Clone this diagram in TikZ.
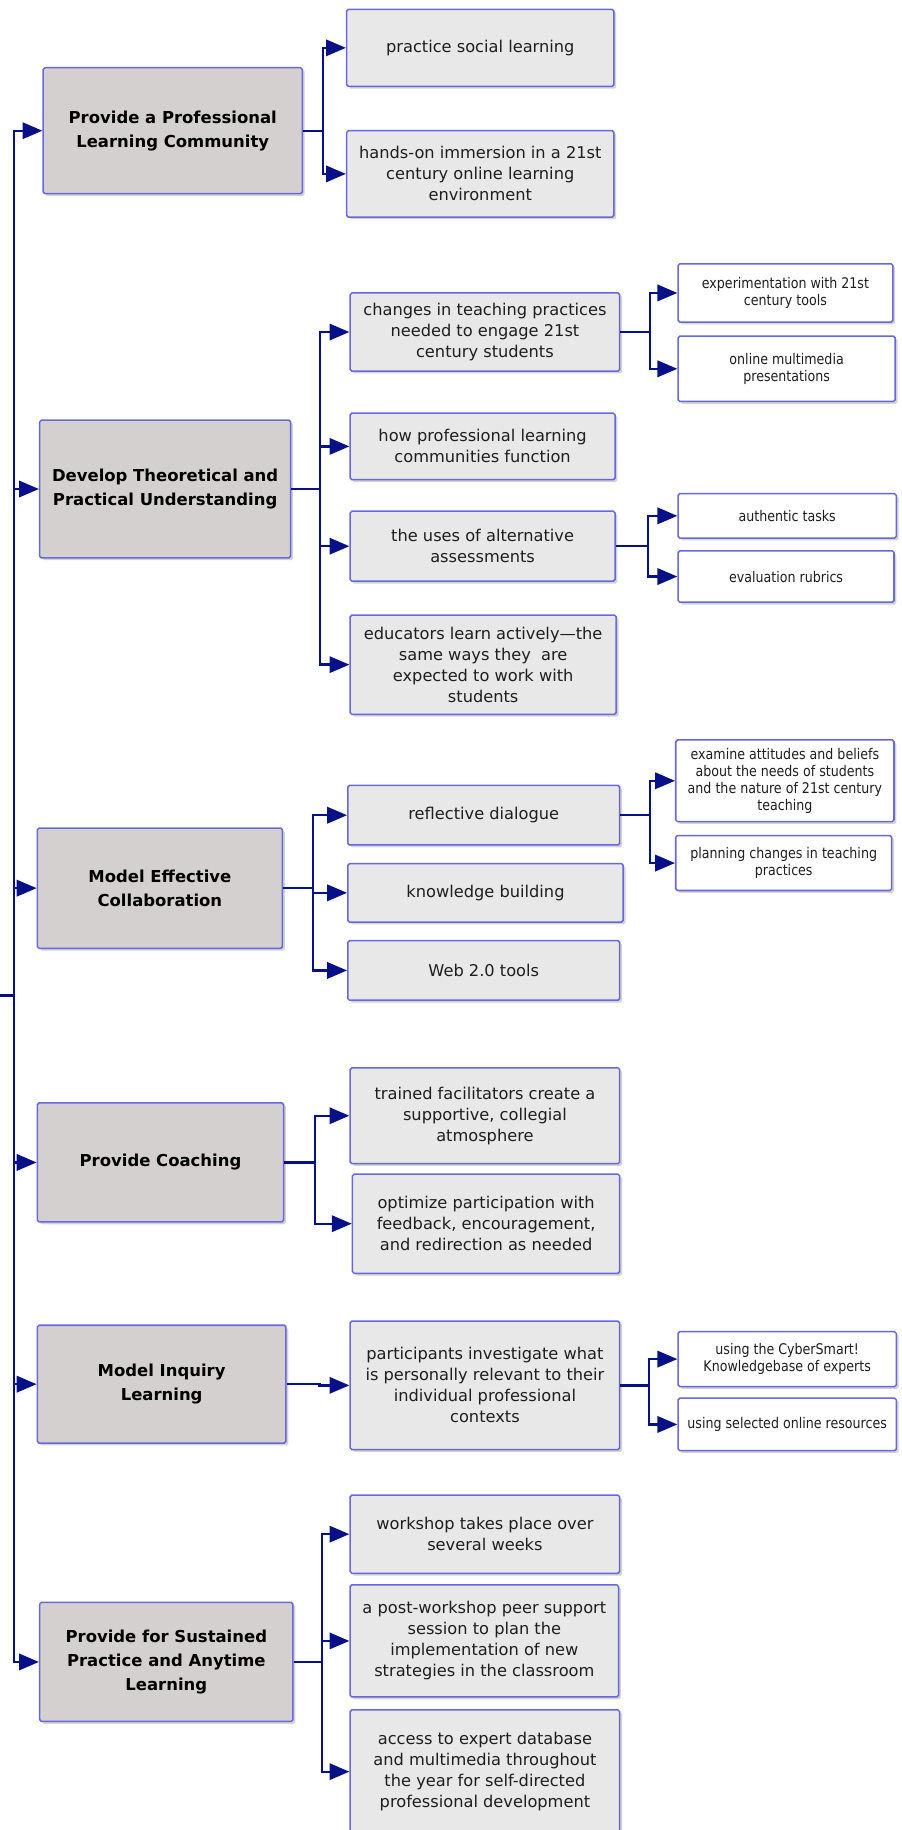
\documentclass[tikz,border=0pt]{standalone}
\usepackage{fontspec}
\usetikzlibrary{arrows.meta,shadows}
\newfontfamily\mainf{DejaVu Sans}
\newfontfamily\narrowf[FakeStretch=0.86]{DejaVu Sans}
\definecolor{bordc}{RGB}{104,104,222}
\definecolor{linec}{RGB}{8,16,136}
\definecolor{lonefill}{RGB}{212,208,208}
\definecolor{ltwofill}{RGB}{232,232,232}
\definecolor{txtc}{RGB}{30,30,30}
\tikzset{
  boxbase/.style={draw=bordc, line width=1.3pt, rounded corners=1.5pt, align=center,
    inner sep=0pt, text=txtc,
    drop shadow={shadow xshift=2pt, shadow yshift=-2pt, opacity=0.35, fill=gray}},
  lone/.style={boxbase, fill=lonefill, text=black, font=\mainf\bfseries\fontsize{14.1}{20.5}\selectfont},
  ltwo/.style={boxbase, fill=ltwofill, font=\mainf\fontsize{13.9}{18}\selectfont},
  lthree/.style={boxbase, fill=white, font=\narrowf\fontsize{12.6}{14.5}\selectfont},
  conn/.style={draw=linec, line width=2pt},
  arr/.style={conn, -{Triangle[length=17pt,width=14pt]}},
}
\begin{document}
\begin{tikzpicture}[x=1pt,y=-1pt]
\useasboundingbox (0,0) rectangle (772,1568);
% level 1
\node[lone, minimum width=222pt, minimum height=108pt] (A) at (148,112) {Provide a Professional\\Learning Community};
\node[lone, minimum width=215pt, minimum height=118pt] (B) at (141.5,419) {Develop Theoretical and\\Practical Understanding};
\node[lone, minimum width=210pt, minimum height=103pt] (C) at (137,761) {Model Effective\\Collaboration};
\node[lone, minimum width=211pt, minimum height=102pt] (D) at (137.5,996) {Provide Coaching};
\node[lone, minimum width=213pt, minimum height=101pt] (E) at (138.5,1186) {Model Inquiry\\Learning};
\node[lone, minimum width=217pt, minimum height=102pt] (F) at (142.5,1424) {Provide for Sustained\\Practice and Anytime\\Learning};
% level 2
\node[ltwo, minimum width=229pt, minimum height=66pt] (A1) at (411.5,41) {practice social learning};
\node[ltwo, minimum width=229pt, minimum height=74pt] (A2) at (411.5,149) {hands-on immersion in a 21st\\century online learning\\environment};
\node[ltwo, minimum width=231pt, minimum height=67pt] (B1) at (415.5,284.5) {changes in teaching practices\\needed to engage 21st\\century students};
\node[ltwo, minimum width=227pt, minimum height=57pt] (B2) at (413.5,382.5) {how professional learning\\communities function};
\node[ltwo, minimum width=227pt, minimum height=60pt] (B3) at (413.5,468) {the uses of alternative\\assessments};
\node[ltwo, minimum width=228pt, minimum height=85pt] (B4) at (414,569.5) {educators learn actively\textemdash the\\same ways they\ \ are\\expected to work with\\students};
\node[ltwo, minimum width=233pt, minimum height=51pt] (C1) at (414.5,698.5) {reflective dialogue};
\node[ltwo, minimum width=236pt, minimum height=50pt] (C2) at (416,765) {knowledge building};
\node[ltwo, minimum width=233pt, minimum height=51pt] (C3) at (414.5,831.5) {Web 2.0 tools};
\node[ltwo, minimum width=231pt, minimum height=82pt] (D1) at (415.5,956) {trained facilitators create a\\supportive, collegial\\atmosphere};
\node[ltwo, minimum width=229pt, minimum height=85pt] (D2) at (416.5,1048.5) {optimize participation with\\feedback, encouragement,\\and redirection as needed};
\node[ltwo, minimum width=231pt, minimum height=110pt] (E1) at (415.5,1187) {participants investigate what\\is personally relevant to their\\individual professional\\contexts};
\node[ltwo, minimum width=231pt, minimum height=67pt] (F1) at (415.5,1314.5) {workshop takes place over\\several weeks};
\node[ltwo, minimum width=230pt, minimum height=96pt] (F2) at (415,1406) {a post-workshop peer support\\session to plan the\\implementation of new\\strategies in the classroom};
\node[ltwo, minimum width=231pt, minimum height=106pt] (F3) at (415.5,1518) {access to expert database\\and multimedia throughout\\the year for self-directed\\professional development};
% level 3
\node[lthree, minimum width=184pt, minimum height=50pt] (B1a) at (673,251) {experimentation with 21st\\century tools};
\node[lthree, minimum width=186pt, minimum height=56pt] (B1b) at (674,316) {online multimedia\\presentations};
\node[lthree, minimum width=187pt, minimum height=38pt] (B3a) at (674.5,442) {authentic tasks};
\node[lthree, minimum width=185pt, minimum height=44pt] (B3b) at (673.5,494) {evaluation rubrics};
\node[lthree, minimum width=187pt, minimum height=70pt] (C1a) at (672.5,669) {examine attitudes and beliefs\\about the needs of students\\and the nature of 21st century\\teaching};
\node[lthree, minimum width=185pt, minimum height=47pt] (C1b) at (671.5,739.5) {planning changes in teaching\\practices};
\node[lthree, minimum width=187pt, minimum height=47pt] (E1a) at (674.5,1164.5) {using the CyberSmart!\\Knowledgebase of experts};
\node[lthree, minimum width=187pt, minimum height=45pt] (E1b) at (674.5,1220.5) {using selected online resources};
% trunk
\coordinate (root) at (0,853);
\coordinate (T) at (12,853);
\draw[conn] (root) -- (T);
\foreach \n in {A,B,C,D,E,F} {\draw[arr] (T) |- (\n.west);}
% level1 -> level2 buses
\coordinate (Abus) at (277,0);
\coordinate (Bbus) at (274,0);
\coordinate (Cbus) at (268,0);
\coordinate (Dbus) at (270,0);
\coordinate (Fbus) at (276,0);
\foreach \c in {A1,A2} {\draw[arr] (A.east) -- (A.east -| Abus) |- (\c.west);}
\foreach \c in {B1,B2,B3,B4} {\draw[arr] (B.east) -- (B.east -| Bbus) |- (\c.west);}
\foreach \c in {C1,C2,C3} {\draw[arr] (C.east) -- (C.east -| Cbus) |- (\c.west);}
\foreach \c in {D1,D2} {\draw[arr] (D.east) -- (D.east -| Dbus) |- (\c.west);}
\draw[arr] (E.east) -- ++(28,0) |- (E1.west);
\foreach \c in {F1,F2,F3} {\draw[arr] (F.east) -- (F.east -| Fbus) |- (\c.west);}
% level2 -> level3 buses
\coordinate (Bobus) at (557,0);
\coordinate (Bthbus) at (555,0);
\coordinate (Cobus) at (557,0);
\coordinate (Eobus) at (556,0);
\foreach \c in {B1a,B1b} {\draw[arr] (B1.east) -- (B1.east -| Bobus) |- (\c.west);}
\foreach \c in {B3a,B3b} {\draw[arr] (B3.east) -- (B3.east -| Bthbus) |- (\c.west);}
\foreach \c in {C1a,C1b} {\draw[arr] (C1.east) -- (C1.east -| Cobus) |- (\c.west);}
\foreach \c in {E1a,E1b} {\draw[arr] (E1.east) -- (E1.east -| Eobus) |- (\c.west);}
\end{tikzpicture}
\end{document}
